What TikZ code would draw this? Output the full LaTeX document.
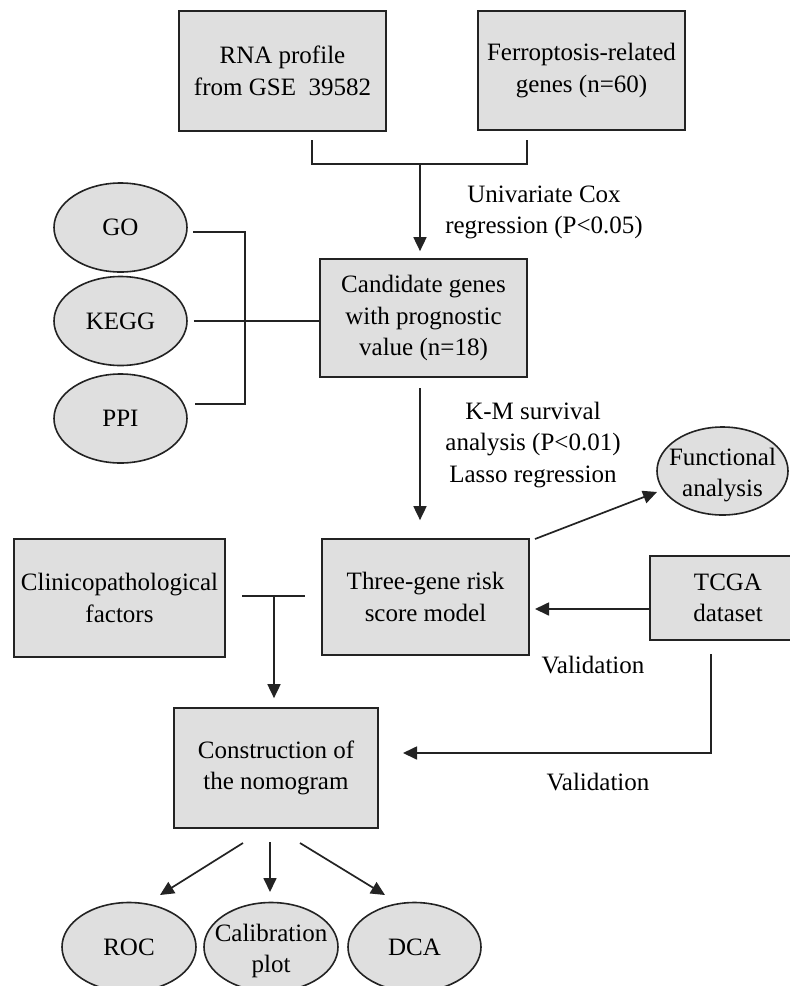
\documentclass[tikz,border=0pt]{standalone}
\usepackage{fontspec}
\setmainfont{Liberation Serif}
\usetikzlibrary{shapes.geometric,arrows.meta}
\definecolor{boxgray}{RGB}{223,223,223}
\definecolor{linegray}{RGB}{35,35,35}
\tikzset{
  box/.style={draw=linegray, fill=boxgray, line width=1.7pt, minimum width=207pt, minimum height=118pt, align=center, inner sep=0pt},
  oval/.style={ellipse, draw=linegray, fill=boxgray, line width=1.6pt, minimum width=133pt, minimum height=89pt, inner sep=0pt},
  conn/.style={draw=linegray, line width=1.7pt},
  arr/.style={conn, -{Triangle[length=14pt,width=13pt]}},
  lbl/.style={align=center, inner sep=0pt}
}
\begin{document}
\begin{tikzpicture}[x=1pt, y=-1pt, font=\fontsize{25}{31.5}\selectfont]
\useasboundingbox (0,0) rectangle (790,986);
\clip (0,0) rectangle (790,986);
\fill[white] (0,0) rectangle (790,986);

% boxes
\node[box, minimum height=120pt] (rna) at (282.5,71) {RNA profile\\from GSE~~39582};
\node[box, minimum height=119pt] (fer) at (581.5,70.5) {Ferroptosis-related\\genes (n=60)};
\node[box] (cand) at (423.5,318) {Candidate genes\\with prognostic\\value (n=18)};
\node[box, minimum height=116pt] (three) at (425.5,597) {Three-gene risk\\score model};
\node[box, minimum width=211pt] (clin) at (119.5,598) {Clinicopathological\\factors};
\node[box, minimum width=156pt, minimum height=84pt] (tcga) at (728,598) {TCGA\\dataset};
\node[box, minimum width=204pt, minimum height=120pt] (nomo) at (276,768) {Construction of\\the nomogram};

% ellipses
\node[oval, label={[lbl]center:GO}] (go) at (120.5,227.5) {};
\node[oval, label={[lbl]center:KEGG}] (kegg) at (120.5,321) {};
\node[oval, label={[lbl]center:PPI}] (ppi) at (120.5,418.5) {};
\node[oval, minimum width=131pt, minimum height=88pt, label={[lbl, yshift=-4pt]center:Functional\\analysis}] (func) at (722.5,471) {};
\node[oval, minimum width=134pt, label={[lbl]center:ROC}] (roc) at (129,947) {};
\node[oval, minimum width=134pt, label={[lbl, yshift=-4pt]center:Calibration\\plot}] (cal) at (271,947) {};
\node[oval, label={[lbl]center:DCA}] (dca) at (414.5,947) {};

% labels
\node[lbl] (l1) at (544,212.5) {Univariate Cox\\regression (P<0.05)};
\node[lbl] (l2) at (533,445) {K-M survival\\analysis (P<0.01)\\Lasso regression};
\node[lbl] (v1) at (593,665) {Validation};
\node[lbl] (v2) at (598,782) {Validation};

% coordinates
\coordinate (bl) at (312,140);
\coordinate (br) at (527,140);
\coordinate (bj) at (420,164);
\coordinate (gob) at (193,232);
\coordinate (ppib) at (195,404);
\coordinate (gpx) at (245,232);
\coordinate (ct) at (420,388);
\coordinate (tr) at (535,539);
\coordinate (fe) at (657,492);
\coordinate (tl) at (650,609);
\coordinate (th) at (535,609);
\coordinate (tl1) at (242,596);
\coordinate (tl2) at (305,596);
\coordinate (tm) at (274,596);
\coordinate (tb) at (711,654);
\coordinate (tc) at (711,753);
\coordinate (ne) at (403,753);
\coordinate (n1) at (243,843);
\coordinate (n2) at (270,842);
\coordinate (n3) at (300,843);
\coordinate (e1) at (160,895);
\coordinate (e2) at (270,892);
\coordinate (e3) at (385,895);

% connectors
\draw[conn] (bl) |- (bj) -| (br);
\draw[arr, shorten >=7pt] (bj) -- (bj |- cand.north);
\draw[conn] (gob) -- (gpx) |- (ppib);
\draw[conn, shorten <=6pt] (kegg.east) -- (kegg.east -| cand.west);
\draw[arr] (ct) -- ([yshift=18pt]ct |- three.north);
\draw[arr] (tr) -- (fe);
\draw[arr] (tl) -- (th);
\draw[conn] (tl1) -- (tl2);
\draw[arr, shorten >=9pt] (tm) -- (tm |- nomo.north);
\draw[arr] (tb) -- (tc) -- (ne);
\draw[arr] (n1) -- (e1);
\draw[arr] (n2) -- (e2);
\draw[arr] (n3) -- (e3);
\end{tikzpicture}
\end{document}
